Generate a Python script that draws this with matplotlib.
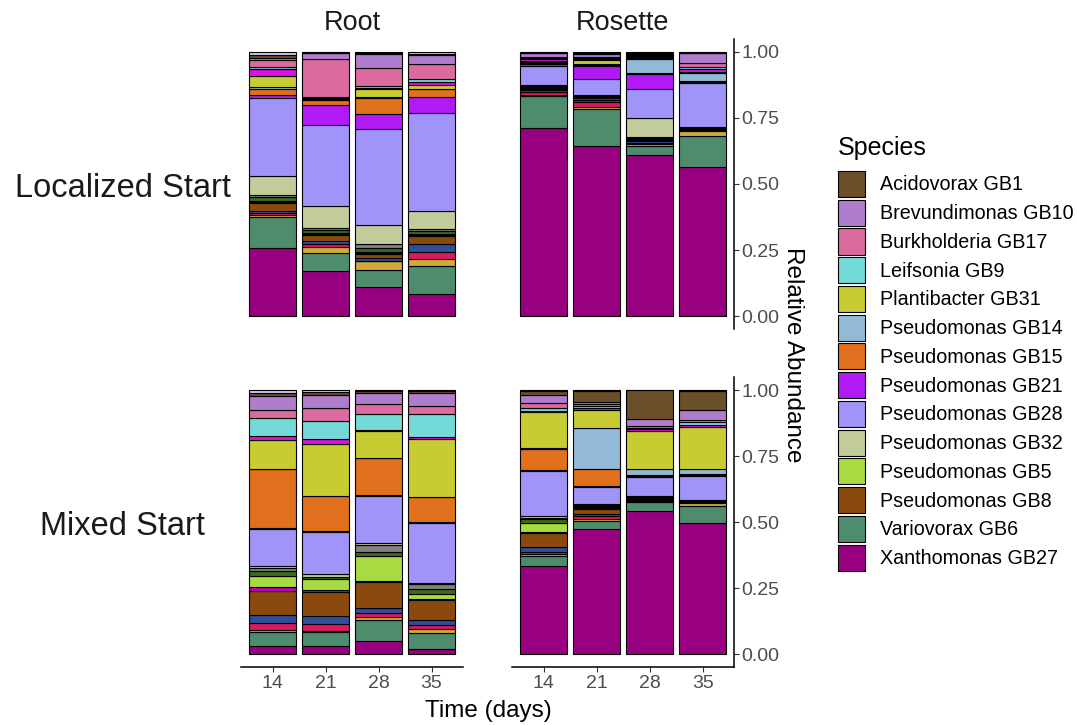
import numpy as np
import matplotlib
matplotlib.use("Agg")
import matplotlib.pyplot as plt
from matplotlib.patches import Patch

plt.rcParams['font.family'] = ['Liberation Sans', 'DejaVu Sans']

# bar order in every list: Localized Root 14,21,28,35 | Localized Rosette | Mixed Root | Mixed Rosette
days = [14, 21, 28, 35]
starts = ["Localized Start", "Mixed Start"]
tissues = ["Root", "Rosette"]

# species stacked bottom -> top
xanthomonas_gb27 = [0.256, 0.170, 0.111, 0.085, 0.713, 0.645, 0.608, 0.565,
                    0.030, 0.030, 0.051, 0.020, 0.332, 0.473, 0.543, 0.496]
variovorax_gb6 = [0.116, 0.070, 0.063, 0.105, 0.122, 0.140, 0.036, 0.116,
                  0.055, 0.054, 0.078, 0.058, 0.038, 0.032, 0.032, 0.063]
other_gold = [0.008, 0.020, 0.033, 0.025, 0.002, 0.006, 0.006, 0.020,
              0.006, 0.005, 0.013, 0.017, 0.008, 0.008, 0.004, 0.013]
other_crimson = [0.008, 0.013, 0.003, 0.026, 0.010, 0.018, 0.006, 0.002,
                 0.025, 0.024, 0.012, 0.014, 0.010, 0.008, 0.004, 0.002]
other_blue = [0.009, 0.012, 0.010, 0.030, 0.008, 0.008, 0.006, 0.002,
              0.031, 0.031, 0.022, 0.019, 0.016, 0.009, 0.004, 0.002]
pseudomonas_gb8 = [0.028, 0.020, 0.016, 0.032, 0.006, 0.008, 0.006, 0.002,
                   0.092, 0.089, 0.096, 0.075, 0.054, 0.019, 0.004, 0.003]
other_magenta1 = [0.004, 0.004, 0.004, 0.003, 0.003, 0.003, 0.002, 0.001,
                  0.014, 0.010, 0.006, 0.004, 0.004, 0.004, 0.002, 0.001]
pseudomonas_gb5 = [0.004, 0.004, 0.004, 0.003, 0.003, 0.003, 0.002, 0.001,
                   0.043, 0.041, 0.092, 0.022, 0.034, 0.004, 0.002, 0.001]
other_darkgreen = [0.014, 0.012, 0.015, 0.014, 0.003, 0.004, 0.003, 0.002,
                   0.019, 0.006, 0.017, 0.017, 0.014, 0.005, 0.003, 0.002]
other_grey = [0.007, 0.010, 0.012, 0.008, 0.003, 0.002, 0.003, 0.002,
              0.012, 0.003, 0.026, 0.019, 0.006, 0.003, 0.002, 0.002]
pseudomonas_gb32 = [0.073, 0.082, 0.072, 0.068, 0.003, 0.002, 0.073, 0.004,
                    0.007, 0.010, 0.009, 0.005, 0.006, 0.003, 0.000, 0.000]
pseudomonas_gb28 = [0.293, 0.306, 0.367, 0.370, 0.070, 0.057, 0.107, 0.164,
                    0.141, 0.160, 0.178, 0.226, 0.170, 0.065, 0.071, 0.088]
pseudomonas_gb21 = [0.013, 0.076, 0.057, 0.061, 0.008, 0.050, 0.057, 0.004,
                    0.003, 0.003, 0.003, 0.003, 0.004, 0.004, 0.003, 0.004]
pseudomonas_gb15 = [0.023, 0.019, 0.060, 0.028, 0.004, 0.004, 0.005, 0.004,
                    0.221, 0.131, 0.138, 0.095, 0.079, 0.064, 0.003, 0.004]
pseudomonas_gb14 = [0.006, 0.003, 0.004, 0.003, 0.004, 0.004, 0.055, 0.030,
                    0.002, 0.002, 0.002, 0.002, 0.004, 0.156, 0.022, 0.018]
plantibacter_gb31 = [0.040, 0.003, 0.027, 0.014, 0.004, 0.014, 0.003, 0.004,
                     0.110, 0.197, 0.101, 0.220, 0.137, 0.066, 0.145, 0.160]
other_magenta2 = [0.027, 0.002, 0.007, 0.012, 0.008, 0.004, 0.003, 0.012,
                  0.014, 0.017, 0.004, 0.006, 0.004, 0.008, 0.007, 0.009]
leifsonia_gb9 = [0.010, 0.002, 0.007, 0.012, 0.004, 0.004, 0.002, 0.010,
                 0.069, 0.069, 0.062, 0.088, 0.012, 0.008, 0.006, 0.009]
burkholderia_gb17 = [0.025, 0.144, 0.067, 0.056, 0.004, 0.006, 0.005, 0.012,
                     0.029, 0.050, 0.036, 0.029, 0.020, 0.008, 0.006, 0.009]
brevundimonas_gb10 = [0.009, 0.024, 0.053, 0.032, 0.013, 0.012, 0.006, 0.038,
                      0.054, 0.050, 0.044, 0.051, 0.030, 0.007, 0.026, 0.038]
acidovorax_gb1 = [0.010, 0.002, 0.004, 0.006, 0.003, 0.003, 0.003, 0.003,
                  0.012, 0.009, 0.005, 0.005, 0.014, 0.044, 0.111, 0.074]
other_lavender = [0.011, 0.002, 0.004, 0.007, 0.002, 0.003, 0.003, 0.002,
                  0.011, 0.009, 0.005, 0.005, 0.004, 0.002, 0.000, 0.002]

stack = [
    ("Xanthomonas GB27", xanthomonas_gb27, "#99007f", True),
    ("Variovorax GB6", variovorax_gb6, "#4e8c6e", True),
    ("other gold", other_gold, "#d1a83a", False),
    ("other crimson", other_crimson, "#d81b60", False),
    ("other blue", other_blue, "#2f4f99", False),
    ("Pseudomonas GB8", pseudomonas_gb8, "#8a4a0e", True),
    ("other magenta 1", other_magenta1, "#c000c0", False),
    ("Pseudomonas GB5", pseudomonas_gb5, "#a8da42", True),
    ("other dark green", other_darkgreen, "#3b6b1e", False),
    ("other grey", other_grey, "#858080", False),
    ("Pseudomonas GB32", pseudomonas_gb32, "#c2cc9a", True),
    ("Pseudomonas GB28", pseudomonas_gb28, "#a094f8", True),
    ("Pseudomonas GB21", pseudomonas_gb21, "#b11af5", True),
    ("Pseudomonas GB15", pseudomonas_gb15, "#e0701d", True),
    ("Pseudomonas GB14", pseudomonas_gb14, "#92bad6", True),
    ("Plantibacter GB31", plantibacter_gb31, "#c8cc33", True),
    ("other magenta 2", other_magenta2, "#e010e0", False),
    ("Leifsonia GB9", leifsonia_gb9, "#74dad7", True),
    ("Burkholderia GB17", burkholderia_gb17, "#db6a9f", True),
    ("Brevundimonas GB10", brevundimonas_gb10, "#b07dcc", True),
    ("Acidovorax GB1", acidovorax_gb1, "#6b4e2a", True),
    ("other lavender", other_lavender, "#cfc6f2", False),
]

vals = np.array([s[1] for s in stack])
vals = vals / vals.sum(axis=0)  # position = "fill"

W, H = 1077, 725
fig = plt.figure(figsize=(W / 100, H / 100), dpi=100)

lefts = [240.7, 511.8]
tops = [38.8, 376.8]
pw, ph = 222.6, 290.4
tick_col = "#4d4d4d"

for r in range(2):
    for c in range(2):
        ax = fig.add_axes([lefts[c] / W, 1 - (tops[r] + ph) / H, pw / W, ph / H])
        k = (r * 2 + c) * 4
        x = np.arange(1, 5)
        bottom = np.zeros(4)
        for i, (name, _, col, _) in enumerate(stack):
            h = vals[i, k:k + 4]
            ax.bar(x, h, bottom=bottom, width=0.9, color=col,
                   edgecolor="black", linewidth=0.8)
            bottom += h
        ax.set_xlim(0.4, 4.6)
        ax.set_ylim(-0.05, 1.05)
        for sp in ax.spines.values():
            sp.set_visible(False)
        if c == 1:
            ax.spines["right"].set_visible(True)
            ax.spines["right"].set_linewidth(1.1)
            ax.yaxis.tick_right()
            ax.set_yticks([0, 0.25, 0.5, 0.75, 1.0])
            ax.set_yticklabels(["0.00", "0.25", "0.50", "0.75", "1.00"])
            ax.tick_params(axis="y", length=3.5, width=0.8, color="#333333",
                           labelsize=14, labelcolor=tick_col, pad=1.5)
        else:
            ax.set_yticks([])
        if r == 1:
            ax.spines["bottom"].set_visible(True)
            ax.spines["bottom"].set_linewidth(1.1)
            ax.set_xticks(x)
            ax.set_xticklabels([str(d) for d in days])
            ax.tick_params(axis="x", length=3.5, width=0.8, color="#333333",
                           labelsize=14, labelcolor=tick_col, pad=2)
        else:
            ax.set_xticks([])

# facet strips
fig.text(352 / W, 1 - 30 / H, tissues[0], ha="center", va="baseline", fontsize=19.5, color="#1a1a1a")
fig.text(623 / W, 1 - 30 / H, tissues[1], ha="center", va="baseline", fontsize=19.5, color="#1a1a1a")
fig.text(122.5 / W, 1 - 197 / H, starts[0], ha="center", va="baseline", fontsize=23.5, color="#1a1a1a")
fig.text(122.5 / W, 1 - 535 / H, starts[1], ha="center", va="baseline", fontsize=23.5, color="#1a1a1a")

fig.text(488 / W, 1 - 717 / H, "Time (days)", ha="center", va="baseline", fontsize=17.5)
fig.text(793 / W, 1 - 355 / H, "Relative Abundance", ha="center", va="center",
         rotation=270, fontsize=17.5)

# legend
fig.text(838 / W, 1 - 155 / H, "Species", ha="left", va="baseline", fontsize=18)
handles = []
labels = []
for name, _, col, shown in reversed(stack):
    if shown:
        handles.append(Patch(facecolor=col, edgecolor="black", linewidth=0.8))
        labels.append(name)
fig.legend(handles, labels, loc="upper left", bbox_to_anchor=(838 / W, 1 - 171 / H),
           frameon=False, fontsize=14.2,
           handlelength=1.37, handleheight=1.654, labelspacing=0.137,
           handletextpad=0.76, borderpad=0, borderaxespad=0)

fig.savefig("out.png", dpi=100)
